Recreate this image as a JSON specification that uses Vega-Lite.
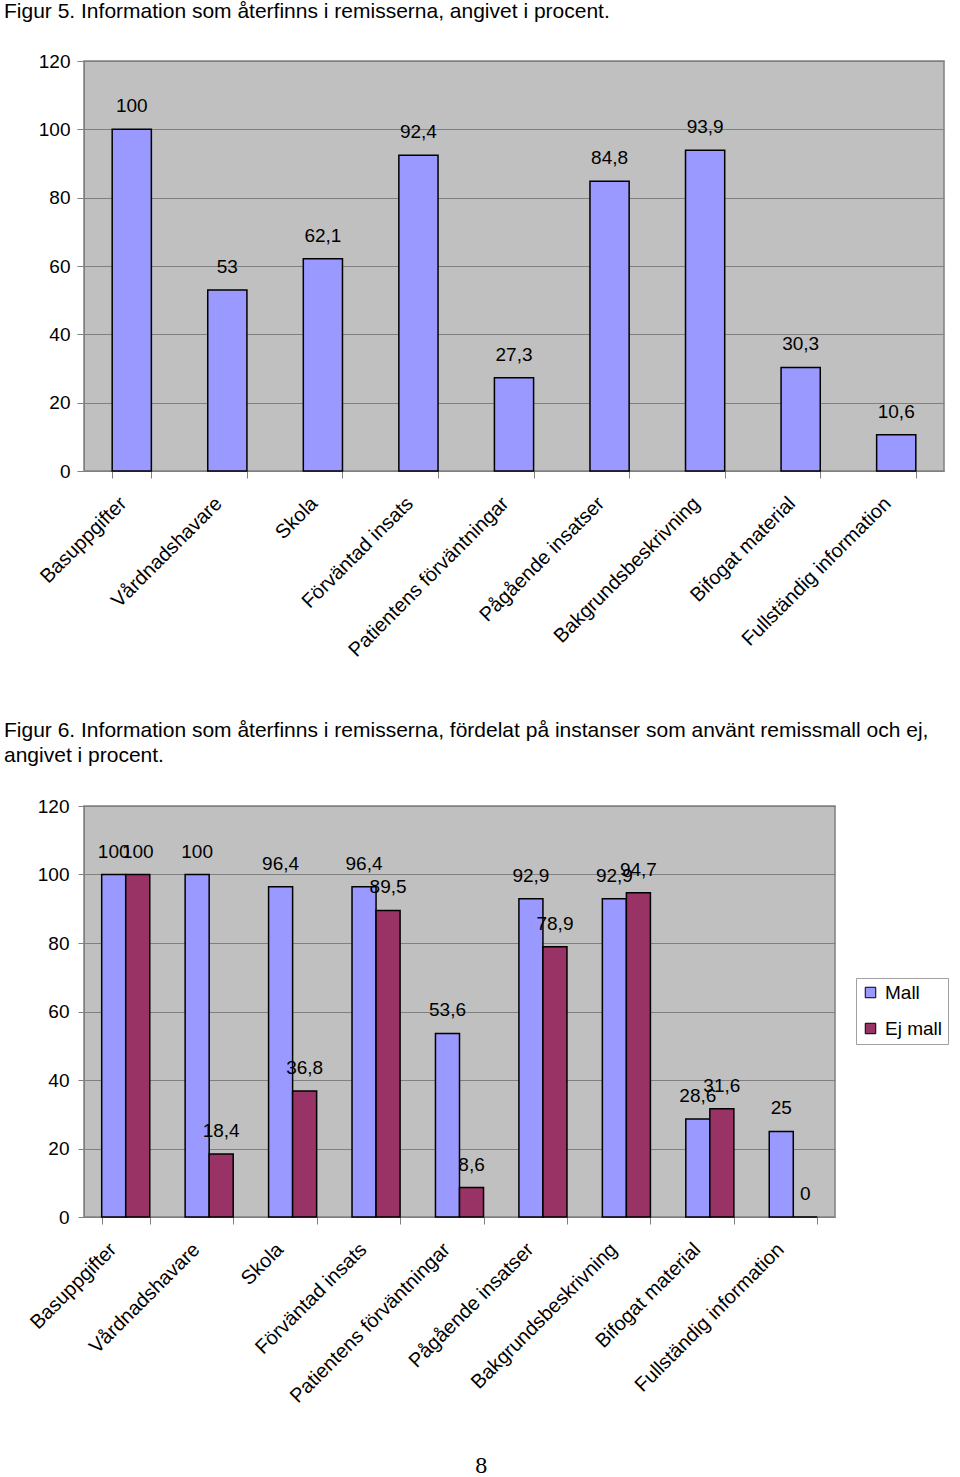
{
  "$schema": "https://vega.github.io/schema/vega-lite/v6.json",
  "background": "white",
  "padding": {"left": 3, "top": 0, "right": 0, "bottom": 0},
  "autosize": {"type": "pad"},
  "spacing": 57,
  "resolve": {"scale": {"color": "independent"}, "legend": {"color": "independent"}},
  "title": {"text": "8", "orient": "bottom", "anchor": "middle", "frame": "bounds", "font": "Liberation Serif", "fontSize": 24, "fontWeight": "normal", "offset": 47, "dx": 5, "color": "black"},
  "config": {
    "locale": {"number": {"decimal": ",", "thousands": "\u00a0", "grouping": [3], "currency": ["", " kr"]}},
    "font": "Liberation Sans",
    "view": {"fill": "#C0C0C0", "stroke": "#808080", "strokeWidth": 1.5},
    "axis": {"labelFont": "Liberation Sans", "labelColor": "black", "labelFontSize": 19, "labelLimit": 0, "domainColor": "#808080", "tickColor": "#808080", "gridColor": "#808080", "gridWidth": 1, "title": null},
    "title": {"font": "Liberation Sans", "fontWeight": "normal", "color": "black", "fontSize": 21, "anchor": "start", "frame": "group"}
  },
  "vconcat": [
    {
      "width": 860,
      "height": 410,
      "title": {"text": "Figur 5. Information som återfinns i remisserna, angivet i procent.", "dx": -80, "offset": 30},
      "data": {"values": [
        {"kategori": "Basuppgifter", "procent": 100},
        {"kategori": "Vårdnadshavare", "procent": 53},
        {"kategori": "Skola", "procent": 62.1},
        {"kategori": "Förväntad insats", "procent": 92.4},
        {"kategori": "Patientens förväntningar", "procent": 27.3},
        {"kategori": "Pågående insatser", "procent": 84.8},
        {"kategori": "Bakgrundsbeskrivning", "procent": 93.9},
        {"kategori": "Bifogat material", "procent": 30.3},
        {"kategori": "Fullständig information", "procent": 10.6}
      ]},
      "encoding": {
        "x": {"field": "kategori", "type": "nominal", "sort": null, "scale": {"paddingInner": 0.59, "paddingOuter": 0.295},
              "axis": {"labelAngle": -45, "labelFontSize": 20, "tickBand": "extent", "tickSize": 7, "labelPadding": 15, "labelOffset": -16, "grid": false}},
        "y": {"field": "procent", "type": "quantitative", "scale": {"domain": [0, 120]},
              "axis": {"values": [0, 20, 40, 60, 80, 100, 120], "grid": true, "tickSize": 7, "labelPadding": 7}}
      },
      "layer": [
        {"mark": {"type": "bar", "fill": "#9999FF", "stroke": "black", "strokeWidth": 1.5}},
        {"mark": {"type": "text", "fontSize": 19, "dy": -23, "baseline": "middle", "color": "black"},
         "encoding": {"text": {"field": "procent", "type": "quantitative", "format": ".3~r"}}}
      ]
    },
    {
      "width": 751,
      "height": 411,
      "title": {"text": ["Figur 6. Information som återfinns i remisserna, fördelat på instanser som använt remissmall och ej,", "angivet i procent."], "dx": -80, "offset": 31, "lineHeight": 25},
      "data": {"values": [
        {"kategori": "Basuppgifter", "grupp": "Mall", "procent": 100},
        {"kategori": "Basuppgifter", "grupp": "Ej mall", "procent": 100},
        {"kategori": "Vårdnadshavare", "grupp": "Mall", "procent": 100},
        {"kategori": "Vårdnadshavare", "grupp": "Ej mall", "procent": 18.4},
        {"kategori": "Skola", "grupp": "Mall", "procent": 96.4},
        {"kategori": "Skola", "grupp": "Ej mall", "procent": 36.8},
        {"kategori": "Förväntad insats", "grupp": "Mall", "procent": 96.4},
        {"kategori": "Förväntad insats", "grupp": "Ej mall", "procent": 89.5},
        {"kategori": "Patientens förväntningar", "grupp": "Mall", "procent": 53.6},
        {"kategori": "Patientens förväntningar", "grupp": "Ej mall", "procent": 8.6},
        {"kategori": "Pågående insatser", "grupp": "Mall", "procent": 92.9},
        {"kategori": "Pågående insatser", "grupp": "Ej mall", "procent": 78.9},
        {"kategori": "Bakgrundsbeskrivning", "grupp": "Mall", "procent": 92.9},
        {"kategori": "Bakgrundsbeskrivning", "grupp": "Ej mall", "procent": 94.7},
        {"kategori": "Bifogat material", "grupp": "Mall", "procent": 28.6},
        {"kategori": "Bifogat material", "grupp": "Ej mall", "procent": 31.6},
        {"kategori": "Fullständig information", "grupp": "Mall", "procent": 25},
        {"kategori": "Fullständig information", "grupp": "Ej mall", "procent": 0}
      ]},
      "encoding": {
        "x": {"field": "kategori", "type": "nominal", "sort": null, "scale": {"paddingInner": 0.424, "paddingOuter": 0.212},
              "axis": {"labelAngle": -45, "labelFontSize": 20, "tickBand": "extent", "tickSize": 7, "labelPadding": 15, "labelOffset": -20, "grid": false}},
        "xOffset": {"field": "grupp", "type": "nominal", "sort": ["Mall", "Ej mall"], "scale": {"paddingInner": 0, "paddingOuter": 0}},
        "y": {"field": "procent", "type": "quantitative", "scale": {"domain": [0, 120]},
              "axis": {"values": [0, 20, 40, 60, 80, 100, 120], "grid": true, "tickSize": 6, "labelPadding": 9}}
      },
      "layer": [
        {"mark": {"type": "bar", "stroke": "black", "strokeWidth": 1.5},
         "encoding": {"color": {"field": "grupp", "type": "nominal", "sort": ["Mall", "Ej mall"],
            "scale": {"domain": ["Mall", "Ej mall"], "range": ["#9999FF", "#993366"]},
            "legend": {"title": null, "orient": "none", "legendX": 772, "legendY": 172, "labelFontSize": 19, "labelFont": "Liberation Sans", "labelColor": "black",
                       "symbolType": "square", "symbolSize": 110, "symbolStrokeColor": "black", "symbolStrokeWidth": 1, "symbolOpacity": 1,
                       "strokeColor": "#A0A0A0", "fillColor": "white", "padding": 5, "rowPadding": 16, "labelOffset": 5}}}},
        {"mark": {"type": "text", "fontSize": 19, "dy": -23, "baseline": "middle", "color": "black"},
         "encoding": {"text": {"field": "procent", "type": "quantitative", "format": ".3~r"}}}
      ]
    }
  ]
}
